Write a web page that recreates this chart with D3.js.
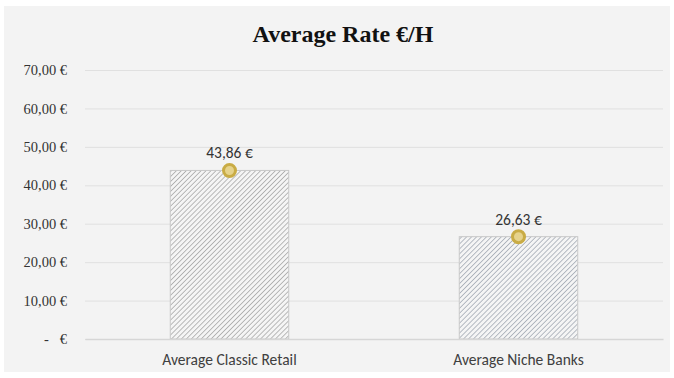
<!DOCTYPE html>
<html>
<head>
<meta charset="utf-8">
<script src="https://cdn.jsdelivr.net/npm/d3@7"></script>
<style>
  html, body { margin: 0; padding: 0; background: #ffffff; }
  svg { display: block; }
  .serif { font-family: "Liberation Serif", "Times New Roman", serif; white-space: pre; }
  .sans { font-family: Carlito, "Open Sans", sans-serif; }
</style>
</head>
<body>
<svg id="chart" width="674" height="378"></svg>
<script>
// Average hourly rate per segment
const categories = ["Average Classic Retail", "Average Niche Banks"];
const rates = [43.86, 26.63];
const rateLabels = ["43,86 €", "26,63 €"];
const tickValues = [0, 10, 20, 30, 40, 50, 60, 70];
const tickLabels = ["-   €", "10,00 €", "20,00 €", "30,00 €", "40,00 €", "50,00 €", "60,00 €", "70,00 €"];
const hatchColors = ["#a5a5a5", "#a0a7b2"];

const svg = d3.select("#chart");
const W = 674, H = 378;

// chart area background
svg.append("rect")
  .attr("x", 4).attr("y", 6).attr("width", 666).attr("height", 366)
  .attr("fill", "#f3f3f3");

const margin = { left: 85, right: 11, top: 70, bottom: 39 };
const x = d3.scaleBand()
  .domain(categories)
  .range([margin.left, W - margin.right])
  .paddingInner(0.59).paddingOuter(0.295);
const y = d3.scaleLinear()
  .domain([0, 70])
  .range([H - margin.bottom, margin.top]);

// hatch patterns
const defs = svg.append("defs");
hatchColors.forEach((c, i) => {
  const p = defs.append("pattern")
    .attr("id", "hatch" + i)
    .attr("patternUnits", "userSpaceOnUse")
    .attr("width", 3.5).attr("height", 3.5)
    .attr("patternTransform", "rotate(45)");
  p.append("rect").attr("width", 3.5).attr("height", 3.5).attr("fill", "#f5f5f5");
  p.append("line")
    .attr("x1", 0).attr("y1", 0).attr("x2", 0).attr("y2", 3.5)
    .attr("stroke", c).attr("stroke-width", 1.5);
});

// title
svg.append("text")
  .attr("class", "serif")
  .attr("x", 343).attr("y", 42)
  .attr("text-anchor", "middle")
  .attr("font-weight", "bold")
  .attr("font-size", 24)
  .attr("fill", "#111")
  .text("Average Rate €/H");

// gridlines and y axis labels
const yAxis = d3.axisLeft(y)
  .tickValues(tickValues)
  .tickSize(-(W - margin.left - margin.right))
  .tickPadding(18)
  .tickFormat((d, i) => tickLabels[i]);
const gy = svg.append("g")
  .attr("transform", `translate(${margin.left},0)`)
  .call(yAxis);
gy.attr("font-family", null).attr("font-size", null);
gy.select(".domain").remove();
gy.selectAll(".tick line").attr("stroke", "#e0e0e0").attr("stroke-width", 1);
gy.selectAll(".tick text")
  .attr("class", "serif")
  .attr("font-size", 14.5)
  .attr("fill", "#333");

// bars
svg.selectAll("rect.bar")
  .data(rates)
  .join("rect")
  .attr("class", "bar")
  .attr("x", (d, i) => x(categories[i]))
  .attr("y", d => y(d))
  .attr("width", x.bandwidth())
  .attr("height", d => y(0) - y(d))
  .attr("fill", (d, i) => `url(#hatch${i})`)
  .attr("stroke", "#c8c8c8")
  .attr("stroke-width", 1);

// x axis
const xAxis = d3.axisBottom(x).tickSize(0).tickPadding(15);
const gx = svg.append("g")
  .attr("transform", `translate(0,${y(0)})`)
  .call(xAxis);
gx.attr("font-family", null).attr("font-size", null);
gx.select(".domain").attr("stroke", "#d6d6d6").attr("stroke-width", 1.5);
gx.selectAll(".tick text")
  .attr("class", "sans")
  .attr("font-size", 15.5)
  .attr("fill", "#404040");

// markers
svg.selectAll("circle.dot")
  .data(rates)
  .join("circle")
  .attr("class", "dot")
  .attr("cx", (d, i) => x(categories[i]) + x.bandwidth() / 2)
  .attr("cy", d => y(d))
  .attr("r", 6)
  .attr("fill", "#e6d38c")
  .attr("stroke", "#c9ac45")
  .attr("stroke-width", 3);

// value labels
svg.selectAll("text.val")
  .data(rates)
  .join("text")
  .attr("class", "val sans")
  .attr("x", (d, i) => x(categories[i]) + x.bandwidth() / 2)
  .attr("y", d => y(d) - 12)
  .attr("text-anchor", "middle")
  .attr("font-size", 15.5)
  .attr("fill", "#333")
  .text((d, i) => rateLabels[i]);
</script>
</body>
</html>
